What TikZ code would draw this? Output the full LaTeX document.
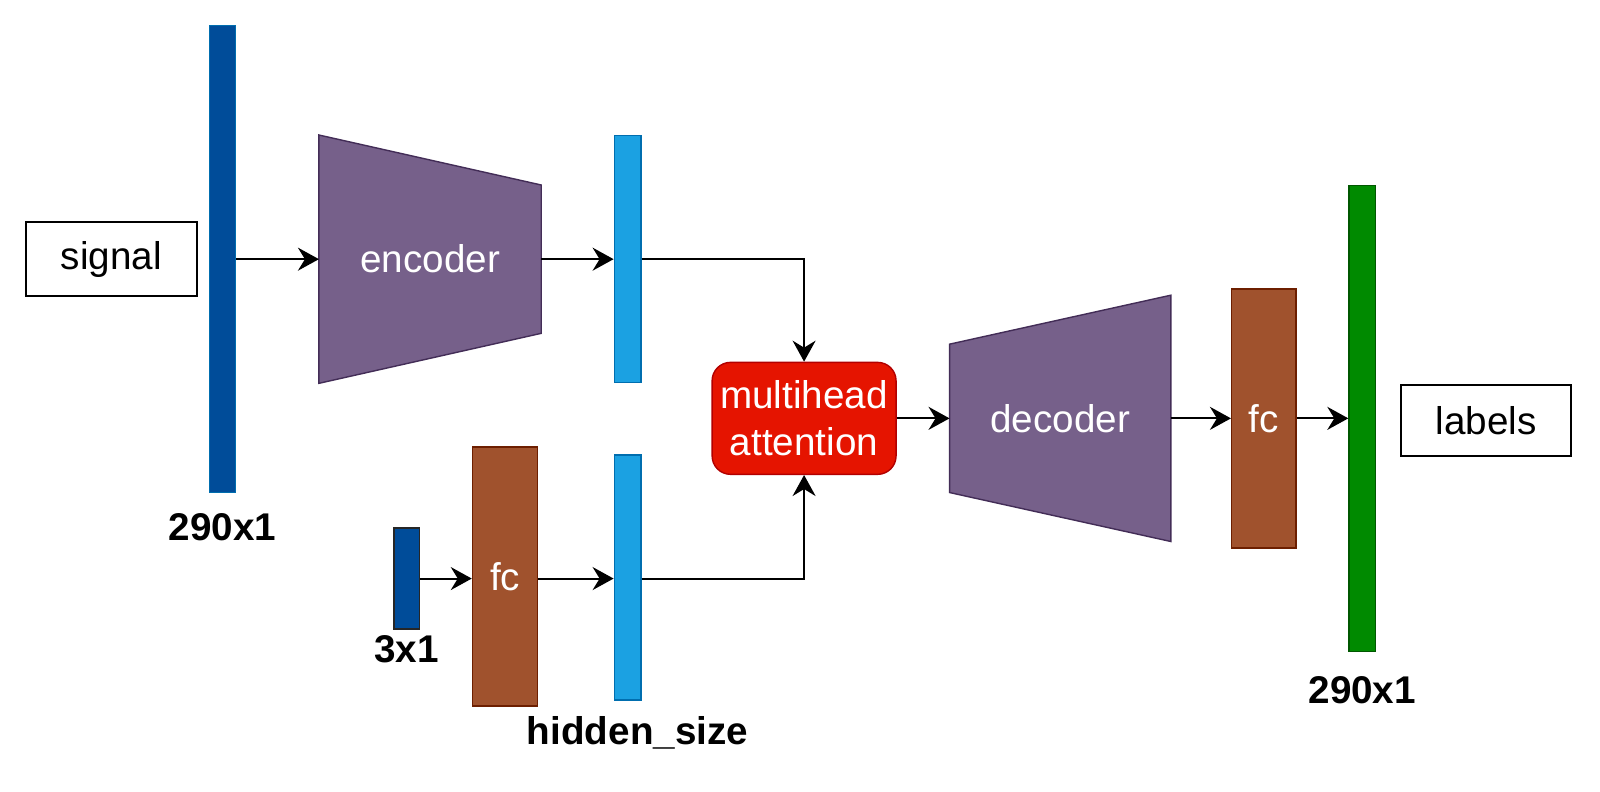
\documentclass[tikz,border=0pt]{standalone}
\usepackage{fontspec}
\setmainfont{Liberation Sans}
\usetikzlibrary{arrows.meta,positioning,calc}
\definecolor{darkblue}{HTML}{004C99}
\definecolor{lightblue}{HTML}{1BA1E2}
\definecolor{blueline}{HTML}{006EAF}
\definecolor{fcbrown}{HTML}{A0522D}
\definecolor{fcline}{HTML}{6D1F00}
\definecolor{outgreen}{HTML}{008A00}
\definecolor{greenline}{HTML}{005700}
\definecolor{attred}{HTML}{E51400}
\definecolor{attline}{HTML}{B20000}
\definecolor{coder}{HTML}{76608A}
\definecolor{coderline}{HTML}{432D57}
\tikzset{
  every node/.style = {font=\fontsize{11pt}{13.3pt}\selectfont},
  bar/.style = {rectangle, minimum width=0.265cm, inner sep=0, line width=0.4pt},
  inbar/.style = {bar, fill=darkblue, draw=blueline},
  hidbar/.style = {bar, fill=lightblue, draw=blueline},
  outbar/.style = {bar, fill=outgreen, draw=greenline},
  fcbox/.style = {rectangle, minimum width=0.653cm, minimum height=2.59cm,
    inner sep=0, fill=fcbrown, draw=fcline, line width=0.4pt, text=white},
  iobox/.style = {rectangle, draw, line width=0.6pt, minimum width=1.71cm,
    minimum height=0.735cm},
  trap/.style = {rectangle, minimum width=2.21cm, minimum height=2.47cm,
    inner sep=0, text=white},
  dimlbl/.style = {inner sep=0, font=\fontsize{11pt}{13.3pt}\selectfont\bfseries},
  conn/.style = {line width=0.6pt, -{Stealth[length=2.1mm,width=2.3mm,inset=0.7mm]}}
}

\begin{document}
\begin{tikzpicture}[x=0.010204cm, y=-0.010204cm]
  \useasboundingbox (0,0) rectangle (1568,775.2);

  % input branch
  \node[iobox] (signal) at (109,254) {signal};
  \node[inbar, minimum height=4.67cm] (bar1) at (218,254) {};
  \node[dimlbl, below=0.2cm of bar1] (dim1) {290x1};
  \node[trap] (enc) at (421.5,254) {};
  \fill[coder, draw=coderline, line width=0.4pt]
    (enc.north west) -- ($(enc.north east)+(0,49)$) --
    ($(enc.south east)+(0,-49)$) -- (enc.south west) -- cycle;
  \node[text=white] at (enc) {encoder};
  \node[hidbar, minimum height=2.47cm] (bar2) at (615,254) {};

  % side branch
  \node[inbar, draw=black!85, minimum width=0.255cm, minimum height=1.01cm] (sbar) at (398.5,567) {};
  \node[dimlbl, below=0.05cm of sbar] (dim2) {3x1};
  \node[fcbox] (fc1) at (495,565) {fc};
  \node[hidbar, minimum height=2.45cm] (bar3) at (615,566) {};
  \node[dimlbl, below=0.15cm of bar3, xshift=0.1cm] (dim3) {hidden\_size};

  % attention and output
  \node[rectangle, rounded corners=1.84mm, fill=attred, draw=attline, line width=0.4pt,
    minimum width=1.84cm, minimum height=1.12cm, align=center, text=white,
    inner sep=0] (att) at (788,410) {multihead\\attention};
  \node[trap, minimum width=2.20cm, minimum height=2.45cm] (dec) at (1039,410) {};
  \fill[coder, draw=coderline, line width=0.4pt]
    ($(dec.north west)+(0,48)$) -- (dec.north east) --
    (dec.south east) -- ($(dec.south west)+(0,-48)$) -- cycle;
  \node[text=white] at (dec) {decoder};
  \node[fcbox, minimum width=0.643cm] (fc2) at (1238.5,410) {fc};
  \node[outbar, minimum height=4.66cm] (bar4) at (1335,410) {};
  \node[dimlbl, below=0.24cm of bar4] (dim4) {290x1};
  \node[iobox, minimum width=1.70cm, minimum height=0.715cm] (labels) at (1456.5,412) {labels};

  % connectors
  \draw[conn] (bar1.east) -- (enc.west);
  \draw[conn] (enc.east) -- (bar2.west);
  \draw[conn] (bar2.east) -| (att.north);
  \draw[conn] (sbar.east) -- (sbar.east -| fc1.west);
  \draw[conn] (sbar.east -| fc1.east) -- (sbar.east -| bar3.west);
  \draw[conn] (sbar.east -| bar3.east) -| (att.south);
  \draw[conn] (att.east) -- (dec.west);
  \draw[conn] (dec.east) -- (fc2.west);
  \draw[conn] (fc2.east) -- (bar4.west);
\end{tikzpicture}
\end{document}
